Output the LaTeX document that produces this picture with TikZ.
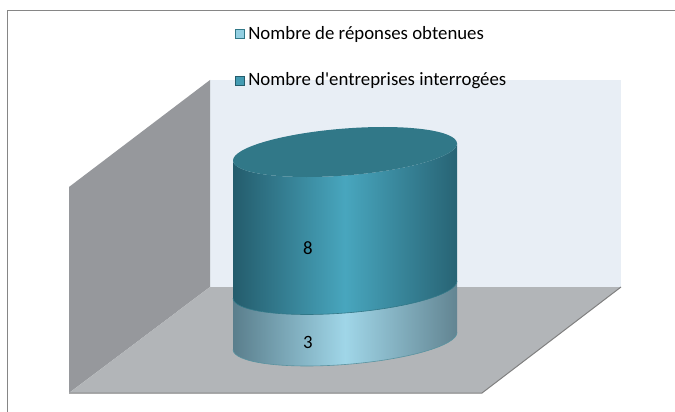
\documentclass[tikz,border=0pt]{standalone}
\usepackage{fontspec}
\setmainfont{Carlito}
\usepackage{tikz}
\definecolor{frame}{RGB}{134, 134, 134}
\definecolor{wall}{RGB}{150, 152, 156}
\definecolor{floor}{RGB}{178, 181, 184}
\definecolor{back}{RGB}{232, 238, 245}
\definecolor{deepedge}{RGB}{36, 92, 108}
\definecolor{deepmid}{RGB}{72, 166, 190}
\definecolor{deeptop}{RGB}{49, 120, 136}
\definecolor{paleedge}{RGB}{90, 126, 140}
\definecolor{palemid}{RGB}{160, 214, 232}

\begin{document}
\begin{tikzpicture}[x=1pt, y=-1pt, font=\fontsize{18.8}{21}\selectfont,
  keybox/.style={minimum size=9.5pt, inner sep=0pt, line width=0.8pt},
  keytext/.style={anchor=west, inner sep=0pt, xshift=3pt},
]
  \useasboundingbox (0, 0) rectangle (675, 412);
  \draw[frame, line width=1.5] (7.5, 412) -- (7.5, 10.5) -- (675, 10.5);

  % walls and floor
  \fill[back] (210, 80) rectangle (621, 287);
  \fill[wall] (69, 187) -- (210, 80) -- (210, 287) -- (69, 393) -- cycle;
  \fill[floor] (69, 393) -- (482, 393) -- (621, 287) -- (210, 287) -- cycle;
  \draw[gray, line width=1] (69, 393) -- (482, 393) -- (621, 287);

  % cylinder
  \begin{scope}[shift={(345, 0)}, cm={1, 0.076, 0, 1, (0, 0)}]
    \shade[left color=paleedge, right color=paleedge!95!white, middle color=palemid]
      (-112, 289.5) -- (-112, 341) arc[start angle=180, end angle=0, x radius=112, y radius=23.5]
      -- (112, 289.5) arc[start angle=0, end angle=180, x radius=112, y radius=23.5] -- cycle;
    \draw[deeptop!80!white, line width=0.6]
      (-112, 341) arc[start angle=180, end angle=0, x radius=112, y radius=23.5];
    \shade[left color=deepedge, right color=deepedge!90!deepmid, middle color=deepmid]
      (-112, 152) -- (-112, 289.5) arc[start angle=180, end angle=0, x radius=112, y radius=23.5]
      -- (112, 152) arc[start angle=0, end angle=180, x radius=112, y radius=23.5] -- cycle;
    \draw[deeptop, line width=0.6]
      (-112, 289.5) arc[start angle=180, end angle=0, x radius=112, y radius=23.5];
    \fill[deeptop] (0, 152) ellipse [x radius=112, y radius=23.5];
  \end{scope}

  \node (eight) at (308, 248) {8};
  \node (three) at (308, 342) {3};

  % legend
  \node[keybox, draw=deeptop, fill=palemid!85!deepmid] (keyA) at (240, 34) {};
  \node[keytext] (textA) at (keyA.east) {Nombre de réponses obtenues};
  \node[keybox, draw=deepedge, fill=deepmid!85!deepedge] (keyB) at (240, 81) {};
  \node[keytext] (textB) at (keyB.east) {Nombre d\textquotesingle entreprises interrogées};
\end{tikzpicture}
\end{document}
